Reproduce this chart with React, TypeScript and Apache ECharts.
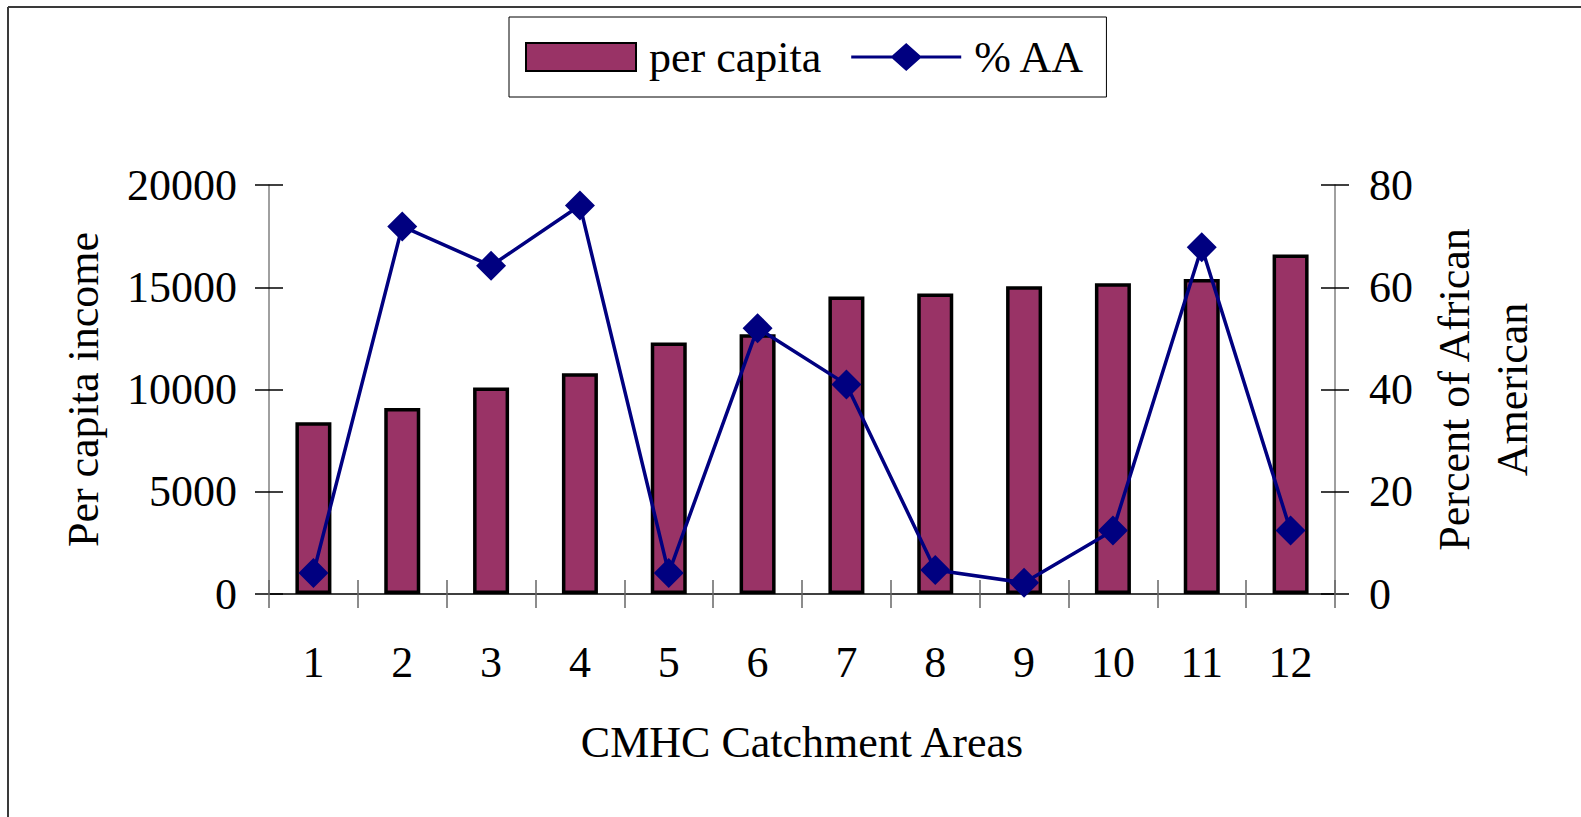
import React, { useEffect, useRef } from "react";
import * as echarts from "echarts";

const categories = ["1", "2", "3", "4", "5", "6", "7", "8", "9", "10", "11", "12"];
const perCapita = [8400, 9100, 10100, 10800, 12300, 12700, 14550, 14700, 15050, 15200, 15400, 16600];
const pctAA = [4.1, 71.9, 64.2, 76.0, 4.1, 52.0, 41.0, 4.7, 2.2, 12.4, 67.8, 12.4];
const leftTicks = { min: 0, max: 20000, interval: 5000 };
const rightTicks = { min: 0, max: 80, interval: 20 };

const FONT = "Liberation Serif";
const FS = 44;

export default function App() {
  const ref = useRef<HTMLDivElement>(null);
  useEffect(() => {
    const chart = echarts.init(ref.current!, null, { renderer: "svg" });
    const labelStyle = { color: "#000", fontFamily: FONT, fontSize: FS, lineHeight: FS };
    const lineIcon =
      "path://M0,12.5L41,12.5L55,0L69,12.5L110,12.5L110,15.5L69,15.5L55,28L41,15.5L0,15.5Z";
    const plain = (v: number) => String(v);
    chart.setOption({
      animation: false,
      backgroundColor: "#fff",
      textStyle: { fontFamily: FONT },
      grid: { left: 269, right: 246, top: 185, bottom: 223, containLabel: false },
      legend: {
        left: 509,
        top: 17,
        padding: [18, 21, 18, 16],
        itemGap: 30,
        itemWidth: 110,
        itemHeight: 28,
        borderColor: "#000",
        borderWidth: 1,
        textStyle: { ...labelStyle, padding: [0, 0, 0, 8] },
        data: [
          { name: "per capita", icon: "rect" },
          { name: "% AA", icon: lineIcon },
        ],
      },
      graphic: [
        { type: "line", shape: { x1: 8, y1: 7, x2: 1581, y2: 7 }, style: { stroke: "#3a3a3a", lineWidth: 2 } },
        { type: "line", shape: { x1: 8, y1: 7, x2: 8, y2: 817 }, style: { stroke: "#3a3a3a", lineWidth: 2 } },
      ],
      xAxis: [
        {
          type: "category",
          data: categories,
          position: "bottom",
          axisLine: { show: true, onZero: false, lineStyle: { color: "#000", width: 1.5 } },
          axisTick: { show: true, inside: false, length: 14, lineStyle: { color: "#666", width: 1.5 } },
          axisLabel: { ...labelStyle, margin: 46 },
          name: "CMHC Catchment Areas",
          nameLocation: "middle",
          nameGap: 126,
          nameTextStyle: { ...labelStyle },
          splitLine: { show: false },
        },
        {
          type: "category",
          data: categories,
          position: "bottom",
          axisLine: { show: false },
          axisTick: { show: true, inside: true, length: 14, lineStyle: { color: "#666", width: 1.5 } },
          axisLabel: { show: false },
          splitLine: { show: false },
        },
      ],
      yAxis: [
        {
          type: "value",
          position: "left",
          ...leftTicks,
          axisLine: { show: true, lineStyle: { color: "#808080", width: 1.5 } },
          axisTick: { show: true, inside: false, length: 14, lineStyle: { color: "#000", width: 1.5 } },
          axisLabel: { ...labelStyle, margin: 32, formatter: plain },
          splitLine: { show: false },
          name: "Per capita income",
          nameLocation: "middle",
          nameRotate: 90,
          nameGap: 164,
          nameTextStyle: { ...labelStyle },
        },
        {
          type: "value",
          position: "right",
          ...rightTicks,
          axisLine: { show: true, lineStyle: { color: "#808080", width: 1.5 } },
          axisTick: { show: true, inside: false, length: 14, lineStyle: { color: "#000", width: 1.5 } },
          axisLabel: { ...labelStyle, margin: 34, formatter: plain },
          splitLine: { show: false },
          name: "Percent of African\nAmerican",
          nameLocation: "middle",
          nameRotate: 90,
          nameGap: 90,
          nameTextStyle: { ...labelStyle, lineHeight: 58 },
        },
        {
          type: "value",
          position: "left",
          ...leftTicks,
          axisLine: { show: false },
          axisTick: { show: true, inside: true, length: 14, lineStyle: { color: "#000", width: 1.5 } },
          axisLabel: { show: false },
          splitLine: { show: false },
        },
        {
          type: "value",
          position: "right",
          ...rightTicks,
          axisLine: { show: false },
          axisTick: { show: true, inside: true, length: 14, lineStyle: { color: "#000", width: 1.5 } },
          axisLabel: { show: false },
          splitLine: { show: false },
        },
      ],
      series: [
        {
          name: "per capita",
          type: "bar",
          xAxisIndex: 0,
          yAxisIndex: 0,
          data: perCapita,
          barWidth: 36,
          itemStyle: { color: "#993366", borderColor: "#000", borderWidth: 3.5 },
          z: 2,
        },
        {
          name: "% AA",
          type: "line",
          xAxisIndex: 0,
          yAxisIndex: 1,
          data: pctAA,
          symbol: "diamond",
          symbolSize: 30,
          itemStyle: { color: "#000080" },
          lineStyle: { color: "#000080", width: 3.5 },
          z: 3,
        },
      ],
    });
    return () => chart.dispose();
  }, []);
  return (
    <div
      ref={ref}
      style={{ position: "absolute", left: 0, top: 0, width: 1581, height: 817, background: "#fff" }}
    />
  );
}
